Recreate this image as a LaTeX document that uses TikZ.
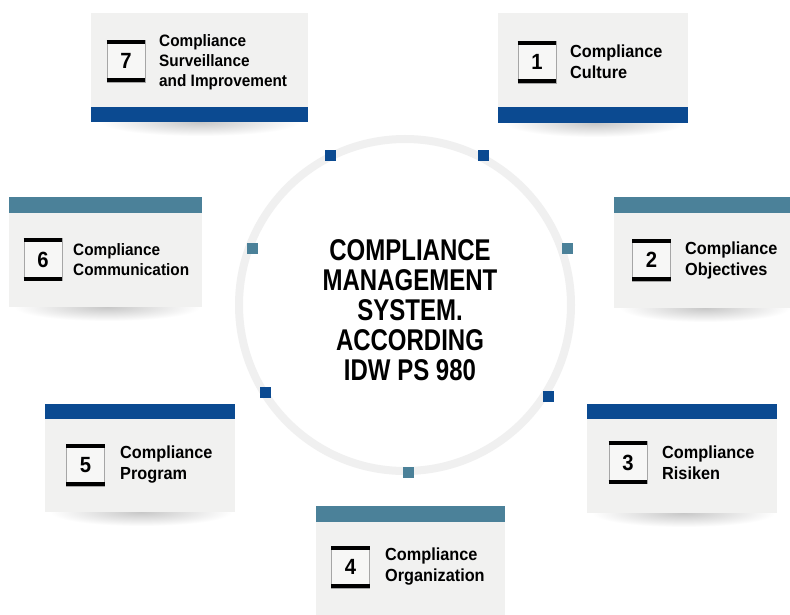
\documentclass[tikz,border=0pt]{standalone}
\usepackage{fontspec}
\setmainfont{Liberation Sans}
\newfontfamily\labelfont{Liberation Sans}[FakeStretch=0.93]
\newfontfamily\titlefont{Liberation Sans}[FakeStretch=0.8]
\newfontfamily\numfont{Liberation Sans}[FakeStretch=0.92]
\definecolor{cmsblue}{HTML}{0B4A91}
\definecolor{cmsteal}{HTML}{4B8199}
\definecolor{cmsgray}{HTML}{F1F1F0}
\definecolor{cmsring}{HTML}{F0F0F0}
\tikzset{
  panel/.style={fill=cmsgray, draw=none, inner sep=0pt, anchor=north west},
  bluebar/.style={fill=cmsblue, draw=none, inner sep=0pt, anchor=north west},
  tealbar/.style={fill=cmsteal, draw=none, inner sep=0pt, anchor=north west},
  numbox/.style={fill=cmsgray!60!white, draw=black!35, line width=0.6pt, inner sep=0pt,
    minimum width=38pt, minimum height=42pt, font=\numfont\bfseries\fontsize{22}{22}\selectfont},
  numbar/.style={line width=4pt, black},
  lbl/.style={anchor=west, align=left, inner sep=0pt, font=\labelfont\bfseries\fontsize{17.5}{21}\selectfont},
  lblsmall/.style={anchor=west, align=left, inner sep=0pt, font=\labelfont\bfseries\fontsize{16.5}{20}\selectfont},
  marker/.style={minimum size=11pt, inner sep=0pt, draw=none},
  ring/.style={draw=cmsring, line width=8pt},
}
\newcommand\numframe[4]{%
  \node[numbox] (#1) at (#2,#3) {#4};
  \draw[numbar] ([yshift=-2pt]#1.north west) -- ([yshift=-2pt]#1.north east);
  \draw[numbar] ([yshift=2pt]#1.south west) -- ([yshift=2pt]#1.south east);
}
\newcommand\shadowunder[4]{% x1, x2, ybottom, name
  \begin{scope}
    \clip (#1-20,#3) rectangle (#2+20,#3+18);
    \shade[inner color=black!22, outer color=white] ({(#1+#2)/2},#3) ellipse [x radius={(#2-#1)/2}, y radius=14];
  \end{scope}
}
\begin{document}
\begin{tikzpicture}[x=1pt, y=-1pt]
\useasboundingbox (0,0) rectangle (790,615);
\fill[white] (0,0) rectangle (790,615);

% shadows
\shadowunder{100}{300}{122}{s7}
\shadowunder{505}{685}{123}{s1}
\shadowunder{14}{200}{307}{s6}
\shadowunder{620}{790}{308}{s2}
\shadowunder{50}{232}{512}{s5}
\shadowunder{592}{775}{513}{s3}

% central ring
\node[circle, minimum size=332pt, inner sep=0pt, ring] (ring) at (405,305) {};

% markers on ring
\node[marker, fill=cmsblue] (m1) at (330,156) {};
\node[marker, fill=cmsblue] (m2) at (483,156) {};
\node[marker, fill=cmsteal] (m3) at (252,248) {};
\node[marker, fill=cmsteal] (m4) at (567,248) {};
\node[marker, fill=cmsblue] (m5) at (265,392) {};
\node[marker, fill=cmsblue] (m6) at (548,396) {};
\node[marker, fill=cmsteal] (m7) at (408,472) {};

% title
\node[align=center, inner sep=0pt, font=\titlefont\bfseries\fontsize{30}{30}\selectfont] (title) at (410,310)
  {COMPLIANCE\\MANAGEMENT\\SYSTEM.\\ACCORDING\\IDW PS 980};

% box 7
\node[panel, minimum width=217pt, minimum height=94pt] (p7) at (91,13) {};
\node[bluebar, minimum width=217pt, minimum height=15pt] (b7) at (91,107) {};
\numframe{n7}{126}{61}{7}
\node[lblsmall] (t7) at (159,62) {Compliance\\Surveillance\\and Improvement};

% box 1
\node[panel, minimum width=190pt, minimum height=94pt] (p1) at (498,13) {};
\node[bluebar, minimum width=190pt, minimum height=16pt] (b1) at (498,107) {};
\numframe{n1}{537}{62}{1}
\node[lbl] (t1) at (570,62) {Compliance\\Culture};

% box 6
\node[tealbar, minimum width=193pt, minimum height=16pt] (b6) at (9,197) {};
\node[panel, minimum width=193pt, minimum height=94pt] (p6) at (9,213) {};
\numframe{n6}{43}{259.5}{6}
\node[lblsmall] (t6) at (73,259.5) {Compliance\\Communication};

% box 2
\node[tealbar, minimum width=178pt, minimum height=16pt] (b2) at (614,197) {};
\node[panel, minimum width=178pt, minimum height=95pt] (p2) at (614,213) {};
\numframe{n2}{651.5}{260}{2}
\node[lbl] (t2) at (685,260) {Compliance\\Objectives};

% box 5
\node[bluebar, minimum width=190pt, minimum height=15pt] (b5) at (45,404) {};
\node[panel, minimum width=190pt, minimum height=93pt] (p5) at (45,419) {};
\numframe{n5}{85.5}{465}{5}
\node[lbl] (t5) at (120,465) {Compliance\\Program};

% box 3
\node[bluebar, minimum width=190pt, minimum height=15pt] (b3) at (587,404) {};
\node[panel, minimum width=190pt, minimum height=94pt] (p3) at (587,419) {};
\numframe{n3}{628}{462.5}{3}
\node[lbl] (t3) at (662,462.5) {Compliance\\Risiken};

% box 4
\node[tealbar, minimum width=189pt, minimum height=16pt] (b4) at (316,506) {};
\node[panel, minimum width=189pt, minimum height=95pt] (p4) at (316,522) {};
\numframe{n4}{350.5}{567}{4}
\node[lbl] (t4) at (385,567) {Compliance\\Organization};
\end{tikzpicture}
\end{document}
